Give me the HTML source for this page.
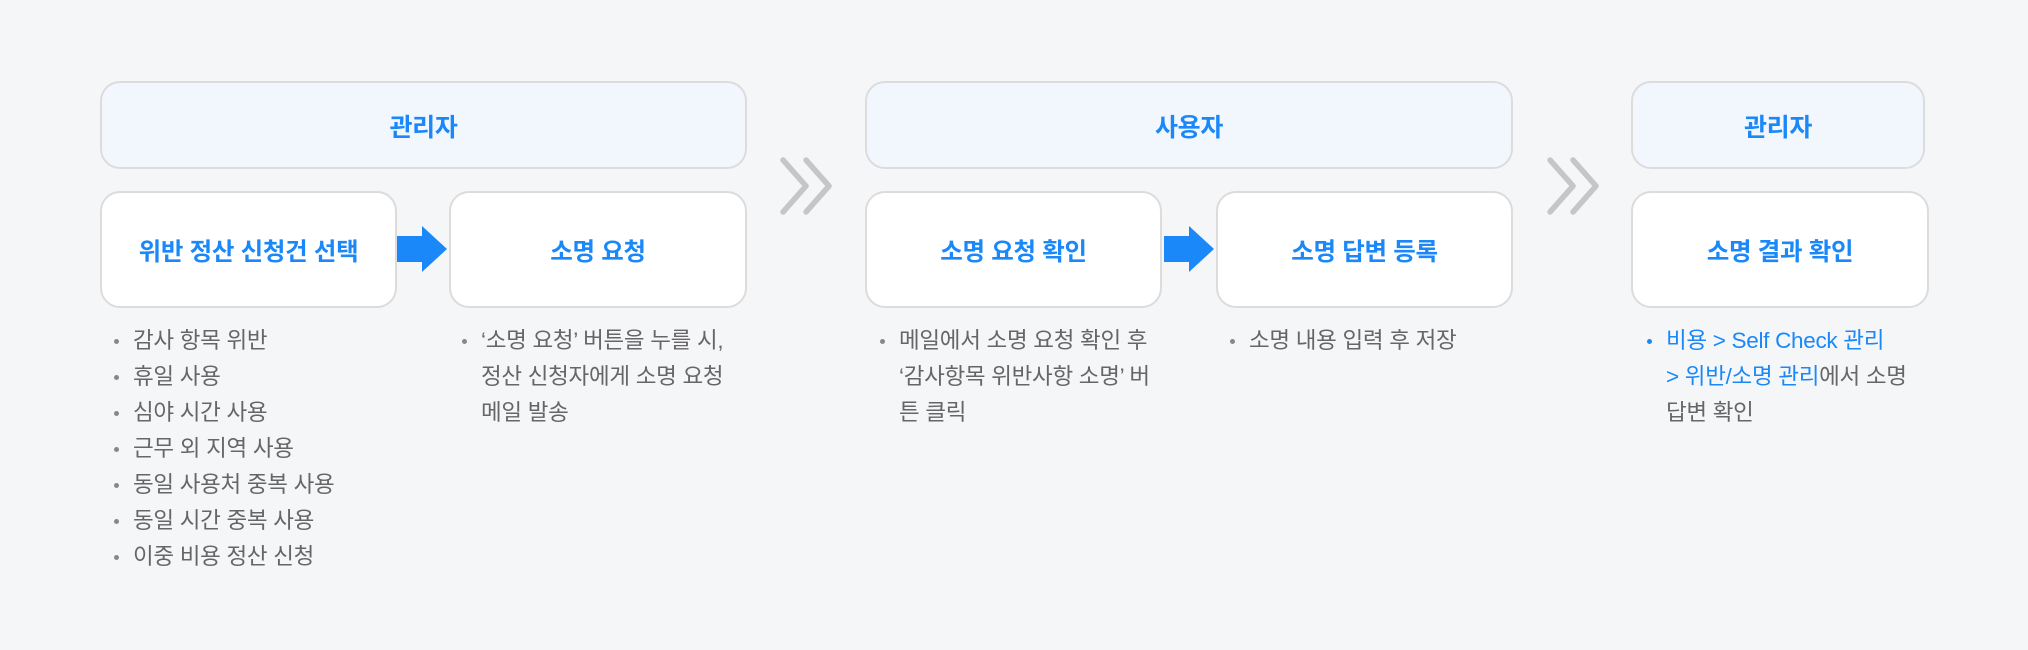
<!DOCTYPE html>
<html><head><meta charset="utf-8"><style>
*{margin:0;padding:0;box-sizing:border-box}
body{width:2028px;height:650px;background:#f5f6f8;position:relative;overflow:hidden;font-family:"Liberation Sans","Noto Sans CJK KR",sans-serif}
.b{position:absolute;border:2px solid #dcdcdc;border-radius:20px;background:#fff;display:flex;align-items:center;justify-content:center;color:#1a88f8;font-weight:bold;font-size:24.5px;letter-spacing:-0.3px;padding-top:2px}
.h{background:#f2f7fe;font-size:25px}
.l{position:absolute;font-size:22.5px;line-height:36px;color:#666;list-style:none;letter-spacing:-0.3px}
.l li{position:relative;padding-left:19px;white-space:nowrap}
.l li.n::before{content:"";position:absolute;left:0;top:16px;width:5px;height:5px;border-radius:50%;background:#888}
.l li.bl::before{background:#1a88f8}
.bl .c{color:#1a88f8}
svg{position:absolute}
</style></head><body>
<div class="b h" style="left:100px;top:81px;width:647px;height:88px">관리자</div>
<div class="b" style="left:100px;top:191px;width:297px;height:117px">위반 정산 신청건 선택</div>
<div class="b" style="left:449px;top:191px;width:298px;height:117px">소명 요청</div>
<div class="b h" style="left:865px;top:81px;width:648px;height:88px">사용자</div>
<div class="b" style="left:865px;top:191px;width:297px;height:117px">소명 요청 확인</div>
<div class="b" style="left:1216px;top:191px;width:297px;height:117px">소명 답변 등록</div>
<div class="b h" style="left:1631px;top:81px;width:294px;height:88px">관리자</div>
<div class="b" style="left:1631px;top:191px;width:298px;height:117px">소명 결과 확인</div>

<svg style="left:0;top:0" width="2028" height="650">
<polygon points="397,236 422,236 422,226 447,249 422,272 422,262 397,262" fill="#1a88f8"/>
<polygon points="1164,236 1189,236 1189,226 1214,249 1189,272 1189,262 1164,262" fill="#1a88f8"/>
<g fill="none" stroke="#c6c6c6" stroke-width="5.5" stroke-linecap="round" stroke-linejoin="round">
<polyline points="783,160 806,186 783,212"/><polyline points="806,160 829,186 806,212"/>
<polyline points="1550,160 1573,186 1550,212"/><polyline points="1573,160 1596,186 1573,212"/>
</g>
</svg>

<ul class="l" style="left:114px;top:323px">
<li class="n">감사 항목 위반</li><li class="n">휴일 사용</li><li class="n">심야 시간 사용</li><li class="n">근무 외 지역 사용</li><li class="n">동일 사용처 중복 사용</li><li class="n">동일 시간 중복 사용</li><li class="n">이중 비용 정산 신청</li>
</ul>
<ul class="l" style="left:462px;top:323px">
<li class="n">‘소명 요청’ 버튼을 누를 시,<br>정산 신청자에게 소명 요청<br>메일 발송</li>
</ul>
<ul class="l" style="left:880px;top:323px">
<li class="n">메일에서 소명 요청 확인 후<br>‘감사항목 위반사항 소명’ 버<br>튼 클릭</li>
</ul>
<ul class="l" style="left:1230px;top:323px">
<li class="n">소명 내용 입력 후 저장</li>
</ul>
<ul class="l" style="left:1647px;top:323px">
<li class="n bl"><span class="c">비용 &gt; Self Check 관리<br>&gt; 위반/소명 관리</span>에서 소명<br>답변 확인</li>
</ul>
</body></html>
